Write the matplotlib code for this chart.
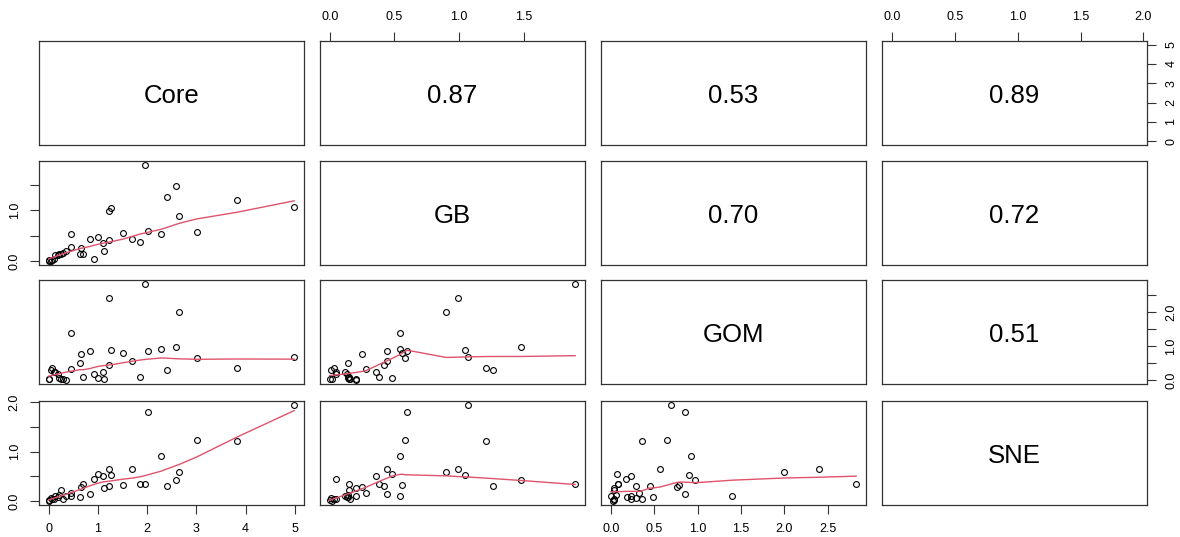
import matplotlib
matplotlib.use("Agg")
import matplotlib.pyplot as plt
import numpy as np

plt.rcParams['font.family'] = ['Liberation Sans', 'DejaVu Sans']

# data
names = ['Core', 'GB', 'GOM', 'SNE']
core = [0.00, 0.01, 0.04, 0.06, 0.10, 0.13, 0.18, 0.20, 0.25, 0.28, 0.35,
        0.45, 0.45, 0.64, 0.65, 0.70, 0.84, 0.92, 1.00, 1.10, 1.12, 1.22,
        1.22, 1.27, 1.50, 1.69, 1.86, 1.96, 2.01, 2.29, 2.41, 2.58, 2.64,
        3.01, 3.82, 4.99]
gb = [0.02, 0.00, 0.01, 0.03, 0.05, 0.12, 0.13, 0.14, 0.15, 0.16, 0.20,
      0.28, 0.54, 0.14, 0.25, 0.15, 0.44, 0.05, 0.48, 0.36, 0.20, 0.42,
      0.99, 1.05, 0.56, 0.44, 0.38, 1.90, 0.60, 0.54, 1.26, 1.48, 0.90,
      0.58, 1.21, 1.07]
gom = [0.02, 0.04, 0.29, 0.36, 0.23, 0.23, 0.19, 0.06, 0.04, 0.04, 0.00,
       0.33, 1.40, 0.49, 0.76, 0.08, 0.86, 0.17, 0.07, 0.23, 0.04, 0.45,
       2.40, 0.90, 0.79, 0.57, 0.08, 2.83, 0.86, 0.93, 0.29, 0.97, 2.00,
       0.65, 0.36, 0.69]
sne = [0.00, 0.02, 0.07, 0.04, 0.04, 0.11, 0.09, 0.12, 0.23, 0.04, 0.11,
       0.16, 0.10, 0.09, 0.28, 0.34, 0.15, 0.44, 0.54, 0.50, 0.26, 0.30,
       0.66, 0.52, 0.32, 0.66, 0.34, 0.34, 1.80, 0.91, 0.30, 0.42, 0.59,
       1.23, 1.21, 1.95]
corr_labels = {(0, 1): '0.87', (0, 2): '0.53', (0, 3): '0.89',
               (1, 2): '0.70', (1, 3): '0.72', (2, 3): '0.51'}
ticks = [[0, 1, 2, 3, 4, 5],
         [0.0, 0.5, 1.0, 1.5],
         [0.0, 0.5, 1.0, 1.5, 2.0, 2.5],
         [0.0, 0.5, 1.0, 1.5, 2.0]]

data = [np.array(core), np.array(gb), np.array(gom), np.array(sne)]


def lowess(x, y, f=2/3, it=3):
    # plain port of R's clowess, without the delta shortcut
    idx = np.argsort(x, kind='stable')
    x = x[idx]
    y = y[idx]
    n = len(x)
    ns = max(2, min(n, int(f * n + 1e-7)))
    rw = np.ones(n)
    ys = np.zeros(n)
    for k in range(it + 1):
        for i in range(n):
            d = np.abs(x - x[i])
            h = np.sort(d)[ns - 1]
            w = np.zeros(n)
            if h > 0:
                r = d / h
                w = np.where(r < 0.999, (1 - np.clip(r, 0, 1) ** 3) ** 3, 0.0)
                w[r <= 0.001] = 1.0
            else:
                w[d == 0] = 1.0
            w = w * rw
            if w.sum() <= 0:
                ys[i] = y[i]
                continue
            w = w / w.sum()
            a = np.sum(w * x)
            b = np.sum(w * (x - a) ** 2)
            if h > 0 and np.sqrt(b) > 0.001 * (x[-1] - x[0]):
                slope = np.sum(w * (x - a) * y) / b
                ys[i] = np.sum(w * y) + slope * (x[i] - a)
            else:
                ys[i] = np.sum(w * y)
        if k == it:
            break
        res = y - ys
        cmad = 6 * np.median(np.abs(res))
        if cmad < 1e-7:
            break
        u = res / cmad
        rw = np.where(np.abs(u) < 1, (1 - u ** 2) ** 2, 0.0)
    return x, ys


def tick_text(v):
    if isinstance(v, int):
        return str(v)
    return '%.1f' % v


W, H = 1180, 537
fig = plt.figure(figsize=(W / 100, H / 100), dpi=100)

lims = []
for v in data:
    r = v.max() - v.min()
    lims.append((v.min() - 0.04 * r, v.max() + 0.04 * r))

col_left = [39, 320, 601, 882]
row_top = [41, 161, 280, 401]
pw, ph = 265, 104

for i in range(4):
    for j in range(4):
        ax = fig.add_axes([col_left[j] / W, 1 - (row_top[i] + ph) / H, pw / W, ph / H])
        ax.set_xlim(lims[j])
        ax.set_ylim(lims[i])
        for s in ax.spines.values():
            s.set_linewidth(0.9)
            s.set_color('#333333')
        ax.tick_params(length=6.2, width=0.8, labelsize=9, color='#333333', pad=7)
        ax.set_xticks([])
        ax.set_yticks([])

        if i == j:
            ax.text(0.5, 0.474, names[i], transform=ax.transAxes,
                    ha='center', va='center', fontsize=18.5)
        elif i < j:
            ax.text(0.5, 0.474, corr_labels[(i, j)], transform=ax.transAxes,
                    ha='center', va='center', fontsize=18.5)
        else:
            ax.plot(data[j], data[i], 'o', mfc='none', mec='black',
                    ms=4.2, mew=0.8)
            xs, ys = lowess(data[j], data[i])
            ax.plot(xs, ys, color='#DF536B', lw=1.0)

        # axes on the outside, alternating like pairs()
        if i == 0 and j % 2 == 1:
            ax.xaxis.tick_top()
            ax.set_xticks(ticks[j])
            ax.set_xticklabels([tick_text(t) for t in ticks[j]])
        if i == 3 and j % 2 == 0:
            ax.set_xticks(ticks[j])
            ax.set_xticklabels([tick_text(t) for t in ticks[j]])
        if j == 0 and i % 2 == 1:
            ax.set_yticks(ticks[i])
            labs = [tick_text(t) if float(t) in (0.0, 1.0, 2.0) else ''
                    for t in ticks[i]]
            ax.set_yticklabels(labs, rotation=90, va='center')
        if j == 3 and i % 2 == 0:
            ax.yaxis.tick_right()
            ax.set_yticks(ticks[i])
            if i == 0:
                labs = [tick_text(t) for t in ticks[i]]
            else:
                labs = [tick_text(t) if float(t) in (0.0, 1.0, 2.0) else ''
                        for t in ticks[i]]
            ax.set_yticklabels(labs, rotation=90, va='center')

fig.savefig('out.png', dpi=100)
